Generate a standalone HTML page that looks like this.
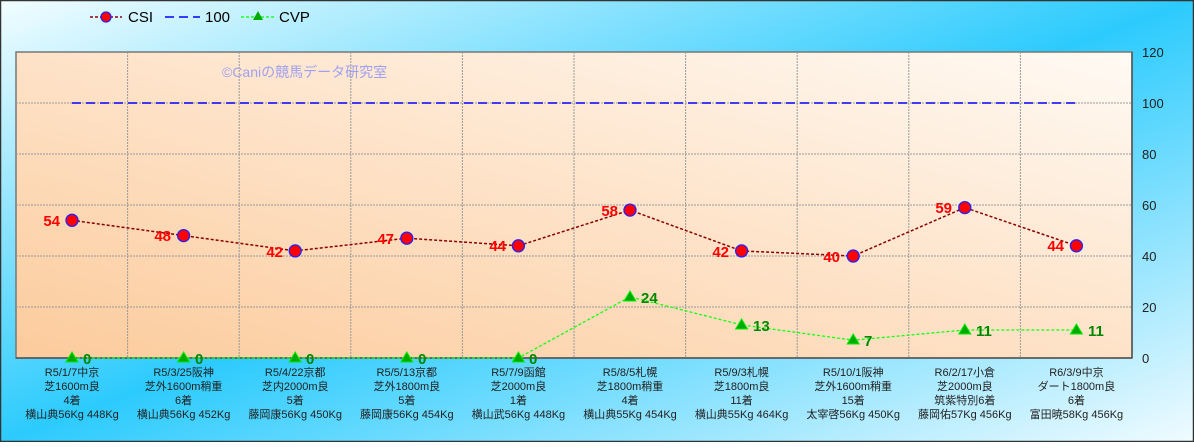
<!DOCTYPE html>
<html><head><meta charset="utf-8"><style>
html,body{margin:0;padding:0}
body{width:1194px;height:442px;overflow:hidden}
svg text{font-family:"Liberation Sans","Noto Sans CJK JP",sans-serif}
</style></head><body>
<svg width="1194" height="442" viewBox="0 0 1194 442" xmlns="http://www.w3.org/2000/svg">
<defs>
<linearGradient id="bg" x1="0" y1="0" x2="1" y2="1">
<stop offset="0" stop-color="#f2fdff"/><stop offset="0.5" stop-color="#2ccbfd"/><stop offset="1" stop-color="#f0fbff"/>
</linearGradient>
<linearGradient id="pl" x1="0" y1="1" x2="1" y2="0">
<stop offset="0" stop-color="#fccb9c"/><stop offset="1" stop-color="#fffaf4"/>
</linearGradient>
</defs>
<rect x="0.5" y="0.5" width="1193" height="441" fill="url(#bg)" stroke="#333" stroke-width="1.5"/>
<!-- legend -->
<line x1="90" y1="17" x2="122" y2="17" stroke="#8b0000" stroke-width="1.5" stroke-dasharray="3,2"/>
<circle cx="106" cy="17" r="5" fill="#f00" stroke="#22f" stroke-width="1.2"/>
<text x="128" y="22" font-size="15">CSI</text>
<line x1="165" y1="17" x2="200" y2="17" stroke="#00f" stroke-width="1.5" stroke-dasharray="9,5"/>
<text x="205" y="22" font-size="15">100</text>
<line x1="241" y1="17" x2="275" y2="17" stroke="#0f0" stroke-width="1.2" stroke-dasharray="3,2"/>
<polygon points="258,11 253,20 263,20" fill="#0a0"/>
<text x="279" y="22" font-size="15">CVP</text>
<!-- plot -->
<rect x="16" y="52" width="1116" height="306" fill="url(#pl)" stroke="#777" stroke-width="1.5"/>
<g stroke="#999" stroke-width="1" stroke-dasharray="2,1">
<line x1="16" y1="103" x2="1132" y2="103"/><line x1="16" y1="154" x2="1132" y2="154"/>
<line x1="16" y1="205" x2="1132" y2="205"/><line x1="16" y1="256" x2="1132" y2="256"/>
<line x1="16" y1="307" x2="1132" y2="307"/>
<line x1="127.6" y1="52" x2="127.6" y2="358"/><line x1="239.2" y1="52" x2="239.2" y2="358"/>
<line x1="350.8" y1="52" x2="350.8" y2="358"/><line x1="462.4" y1="52" x2="462.4" y2="358"/>
<line x1="574" y1="52" x2="574" y2="358"/><line x1="685.6" y1="52" x2="685.6" y2="358"/>
<line x1="797.2" y1="52" x2="797.2" y2="358"/><line x1="908.8" y1="52" x2="908.8" y2="358"/>
<line x1="1020.4" y1="52" x2="1020.4" y2="358"/>
</g>
<line x1="16" y1="358" x2="1132" y2="358" stroke="#555" stroke-width="1.5"/>
<line x1="1132" y1="52" x2="1132" y2="358" stroke="#555" stroke-width="1.5"/>
<text x="222" y="77" font-size="14" fill="#a0a0f0">©Caniの競馬データ研究室</text>
<line x1="72" y1="103" x2="1077" y2="103" stroke="#00f" stroke-width="1.5" stroke-dasharray="9,5"/>
<!-- y labels -->
<g font-size="13" fill="#222">
<text x="1142" y="57">120</text><text x="1142" y="108">100</text><text x="1142" y="159">80</text>
<text x="1142" y="210">60</text><text x="1142" y="261">40</text><text x="1142" y="312">20</text>
<text x="1142" y="363">0</text></g>
<!-- CVP -->
<polyline points="72,358 183.6,358 295.2,358 406.8,358 518.4,358 630,296.8 741.6,324.9 853.2,340.2 964.8,330 1076.4,330" fill="none" stroke="#1f1" stroke-width="1.3" stroke-dasharray="3,2"/>
<g fill="#0a0" stroke="#0e0" stroke-width="1">
<polygon points="72,352 66,362 78,362"/><polygon points="183.6,352 177.6,362 189.6,362"/>
<polygon points="295.2,352 289.2,362 301.2,362"/><polygon points="406.8,352 400.8,362 412.8,362"/>
<polygon points="518.4,352 512.4,362 524.4,362"/><polygon points="630,291 624,301 636,301"/>
<polygon points="741.6,319 735.6,329 747.6,329"/><polygon points="853.2,334 847.2,344 859.2,344"/>
<polygon points="964.8,324 958.8,334 970.8,334"/><polygon points="1076.4,324 1070.4,334 1082.4,334"/>
</g>
<g font-size="15" font-weight="bold" fill="#080">
<text x="83" y="364">0</text><text x="195" y="364">0</text><text x="306" y="364">0</text>
<text x="418" y="364">0</text><text x="529" y="364">0</text><text x="641" y="303">24</text>
<text x="753" y="331">13</text><text x="864" y="346">7</text><text x="976" y="336">11</text>
<text x="1088" y="336">11</text></g>
<!-- CSI -->
<polyline points="72,220.3 183.6,235.6 295.2,250.9 406.8,238.2 518.4,245.8 630,210.1 741.6,250.9 853.2,256 964.8,207.6 1076.4,245.8" fill="none" stroke="#8b0000" stroke-width="1.5" stroke-dasharray="3,2"/>
<g fill="#f00" stroke="#22f" stroke-width="1.3">
<circle cx="72" cy="220.3" r="6"/><circle cx="183.6" cy="235.6" r="6"/><circle cx="295.2" cy="250.9" r="6"/>
<circle cx="406.8" cy="238.2" r="6"/><circle cx="518.4" cy="245.8" r="6"/><circle cx="630" cy="210.1" r="6"/>
<circle cx="741.6" cy="250.9" r="6"/><circle cx="853.2" cy="256" r="6"/><circle cx="964.8" cy="207.6" r="6"/>
<circle cx="1076.4" cy="245.8" r="6"/></g>
<g font-size="15" font-weight="bold" fill="#f00" text-anchor="end">
<text x="60" y="226">54</text><text x="171" y="241">48</text><text x="283" y="257">42</text>
<text x="394" y="244">47</text><text x="506" y="251">44</text><text x="618" y="216">58</text>
<text x="729" y="257">42</text><text x="840" y="262">40</text><text x="952" y="213">59</text>
<text x="1064" y="251">44</text></g>
<!-- x labels -->
<g font-size="11" fill="#222" text-anchor="middle">
<text x="72" y="376">R5/1/7中京</text><text x="72" y="390">芝1600m良</text><text x="72" y="404">4着</text><text x="72" y="418">横山典56Kg 448Kg</text>
<text x="183.6" y="376">R5/3/25阪神</text><text x="183.6" y="390">芝外1600m稍重</text><text x="183.6" y="404">6着</text><text x="183.6" y="418">横山典56Kg 452Kg</text>
<text x="295.2" y="376">R5/4/22京都</text><text x="295.2" y="390">芝内2000m良</text><text x="295.2" y="404">5着</text><text x="295.2" y="418">藤岡康56Kg 450Kg</text>
<text x="406.8" y="376">R5/5/13京都</text><text x="406.8" y="390">芝外1800m良</text><text x="406.8" y="404">5着</text><text x="406.8" y="418">藤岡康56Kg 454Kg</text>
<text x="518.4" y="376">R5/7/9函館</text><text x="518.4" y="390">芝2000m良</text><text x="518.4" y="404">1着</text><text x="518.4" y="418">横山武56Kg 448Kg</text>
<text x="630" y="376">R5/8/5札幌</text><text x="630" y="390">芝1800m稍重</text><text x="630" y="404">4着</text><text x="630" y="418">横山典55Kg 454Kg</text>
<text x="741.6" y="376">R5/9/3札幌</text><text x="741.6" y="390">芝1800m良</text><text x="741.6" y="404">11着</text><text x="741.6" y="418">横山典55Kg 464Kg</text>
<text x="853.2" y="376">R5/10/1阪神</text><text x="853.2" y="390">芝外1600m稍重</text><text x="853.2" y="404">15着</text><text x="853.2" y="418">太宰啓56Kg 450Kg</text>
<text x="964.8" y="376">R6/2/17小倉</text><text x="964.8" y="390">芝2000m良</text><text x="964.8" y="404">筑紫特別6着</text><text x="964.8" y="418">藤岡佑57Kg 456Kg</text>
<text x="1076.4" y="376">R6/3/9中京</text><text x="1076.4" y="390">ダート1800m良</text><text x="1076.4" y="404">6着</text><text x="1076.4" y="418">富田暁58Kg 456Kg</text>
</g>
</svg>
</body></html>
